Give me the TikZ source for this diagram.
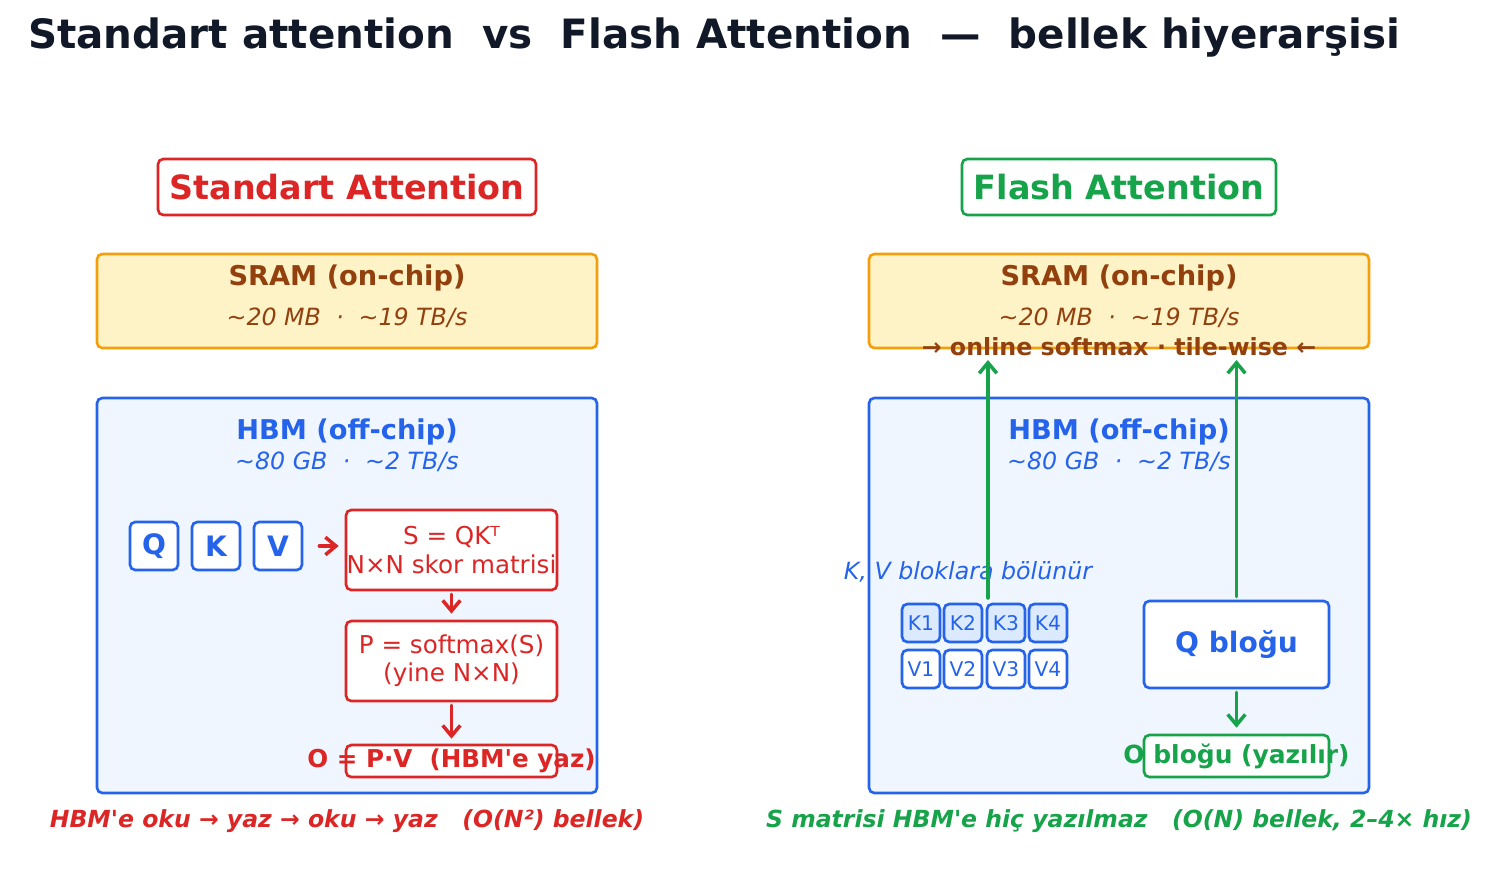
\documentclass[tikz,border=0pt]{standalone}
\usepackage{fontspec}
\setmainfont{DejaVu Sans}
\usetikzlibrary{arrows.meta}
\definecolor{stdred}{HTML}{DC2626}
\definecolor{flgreen}{HTML}{16A34A}
\definecolor{hbmblue}{HTML}{2563EB}
\definecolor{hbmfill}{HTML}{EFF6FF}
\definecolor{sramfill}{HTML}{FEF3C7}
\definecolor{sramline}{HTML}{F59E0B}
\definecolor{sramtext}{HTML}{92400E}
\definecolor{kfill}{HTML}{DBEAFE}
\definecolor{titlec}{HTML}{111827}
\newcommand{\sq}{\textquotesingle}
\tikzset{
  box/.style={draw, rounded corners=3pt, line width=1.5pt, inner sep=0pt},
  head/.style={box, fill=white, font=\bfseries\fontsize{19}{22}\selectfont},
  sram/.style={box, draw=sramline, fill=sramfill, minimum width=500*0.02cm, minimum height=94*0.02cm},
  hbm/.style={box, draw=hbmblue, fill=hbmfill, minimum width=500*0.02cm, minimum height=395*0.02cm},
  mat/.style={box, draw=hbmblue, fill=white, minimum size=48*0.02cm, text=hbmblue, font=\bfseries\fontsize{16}{18}\selectfont},
  calc box/.style={box, draw=stdred, fill=white, minimum width=211*0.02cm, minimum height=80*0.02cm, text=stdred, align=center, font=\fontsize{14}{16}\selectfont},
  blk/.style={box, draw=hbmblue, minimum size=38*0.02cm, text=hbmblue, font=\fontsize{11.5}{13}\selectfont},
  arr/.style={-{Straight Barb[length=6pt,width=10pt]}, line width=2pt, line cap=round},
  sub/.style={font=\itshape\fontsize{13.5}{15}\selectfont},
  lvl/.style={font=\bfseries\fontsize{15.5}{18}\selectfont},
}
\begin{document}
\begin{tikzpicture}[x=0.02cm, y=-0.02cm]
\useasboundingbox (0,0) rectangle (1493,884);
\node[anchor=west, text=titlec, font=\bfseries\fontsize{23}{26}\selectfont] (title) at (22,38) {Standart attention \ vs \ Flash Attention \ — \ bellek hiyerarşisi};

% left: standard
\node[head, draw=stdred, text=stdred, minimum width=378*0.02cm, minimum height=56*0.02cm] (stdhead) at (347,187) {Standart Attention};
\node[sram] (sramL) at (347,301) {};
\node[text=sramtext, lvl] at (347,278) {SRAM (on-chip)};
\node[text=sramtext, sub] at (347,318) {\textasciitilde20 MB \ · \ \textasciitilde19 TB/s};
\node[hbm] (hbmL) at (347,595.5) {};
\node[text=hbmblue, lvl] at (347,432) {HBM (off-chip)};
\node[text=hbmblue, sub] at (347,462) {\textasciitilde80 GB \ · \ \textasciitilde2 TB/s};
\node[mat] (q) at (154,546) {Q};
\node[mat] (k) at (216,546) {K};
\node[mat] (v) at (278,546) {V};
\node[calc box] (s) at (451.5,550) {S = QKᵀ\\N×N skor matrisi};
\node[calc box] (p) at (451.5,661) {P = softmax(S)\\(yine N×N)};
\node[calc box, minimum height=32*0.02cm] (o) at (451.5,761) {};
\node[text=stdred, font=\bfseries\fontsize{14}{16}\selectfont] at (451.5,761) {O = P·V \ (HBM\sq e yaz)};
\draw[arr, stdred] ([xshift=16*0.02cm]v.east) -- ([xshift=-6*0.02cm]s.west |- v.east);
\draw[arr, stdred] ([yshift=-3*0.02cm]s.south) -- ([yshift=6*0.02cm]p.north);
\draw[arr, stdred] ([yshift=-3*0.02cm]p.south) -- ([yshift=5*0.02cm]o.north);
\node[text=stdred, font=\bfseries\itshape\fontsize{13.4}{15}\selectfont] (noteL) at (347,821) {HBM\sq e oku → yaz → oku → yaz \ \ (O(N²) bellek)};

% right: flash
\node[head, draw=flgreen, text=flgreen, minimum width=314*0.02cm, minimum height=56*0.02cm] (flhead) at (1119,187) {Flash Attention};
\node[sram] (sramR) at (1119,301) {};
\node[text=sramtext, lvl] at (1119,278) {SRAM (on-chip)};
\node[text=sramtext, sub] at (1119,318) {\textasciitilde20 MB \ · \ \textasciitilde19 TB/s};
\node[hbm] (hbmR) at (1119,595.5) {};
\node[text=hbmblue, lvl] at (1119,432) {HBM (off-chip)};
\node[text=hbmblue, sub] at (1119,462) {\textasciitilde80 GB \ · \ \textasciitilde2 TB/s};
\node[text=sramtext, font=\bfseries\fontsize{13.5}{15}\selectfont] (online) at (1119,347) {→ online softmax · tile-wise ←};
\node[text=hbmblue, sub] (split) at (968,572) {K, V bloklara bölünür};
\foreach \i/\x in {1/921,2/963,3/1006,4/1048} {
  \node[blk, fill=kfill] (k\i) at (\x,623) {K\i};
  \node[blk, fill=white] (v\i) at (\x,669) {V\i};
}
\node[box, draw=hbmblue, fill=white, minimum width=185*0.02cm, minimum height=87*0.02cm, text=hbmblue, font=\bfseries\fontsize{16}{18}\selectfont] (qb) at (1236.5,644.5) {Q bloğu};
\node[box, draw=flgreen, fill=white, minimum width=185*0.02cm, minimum height=42*0.02cm] (ob) at (1236.5,756) {};
\node[text=flgreen, font=\bfseries\fontsize{14.2}{16}\selectfont] at (1236.5,756) {O bloğu (yazılır)};
\coordinate (kvtop) at (988,598);
\coordinate (up1) at (988,360);
\coordinate (up2) at (1236.5,360);
\draw[arr, flgreen] (kvtop) -- (up1);
\draw[arr, flgreen] ([yshift=3*0.02cm]qb.north) -- (up2);
\draw[arr, flgreen] ([yshift=-3*0.02cm]qb.south) -- ([yshift=6*0.02cm]ob.north);
\node[text=flgreen, font=\bfseries\itshape\fontsize{13.4}{15}\selectfont] (noteR) at (1119,821) {S matrisi HBM\sq e hiç yazılmaz \ \ (O(N) bellek, 2–4× hız)};
\end{tikzpicture}
\end{document}
